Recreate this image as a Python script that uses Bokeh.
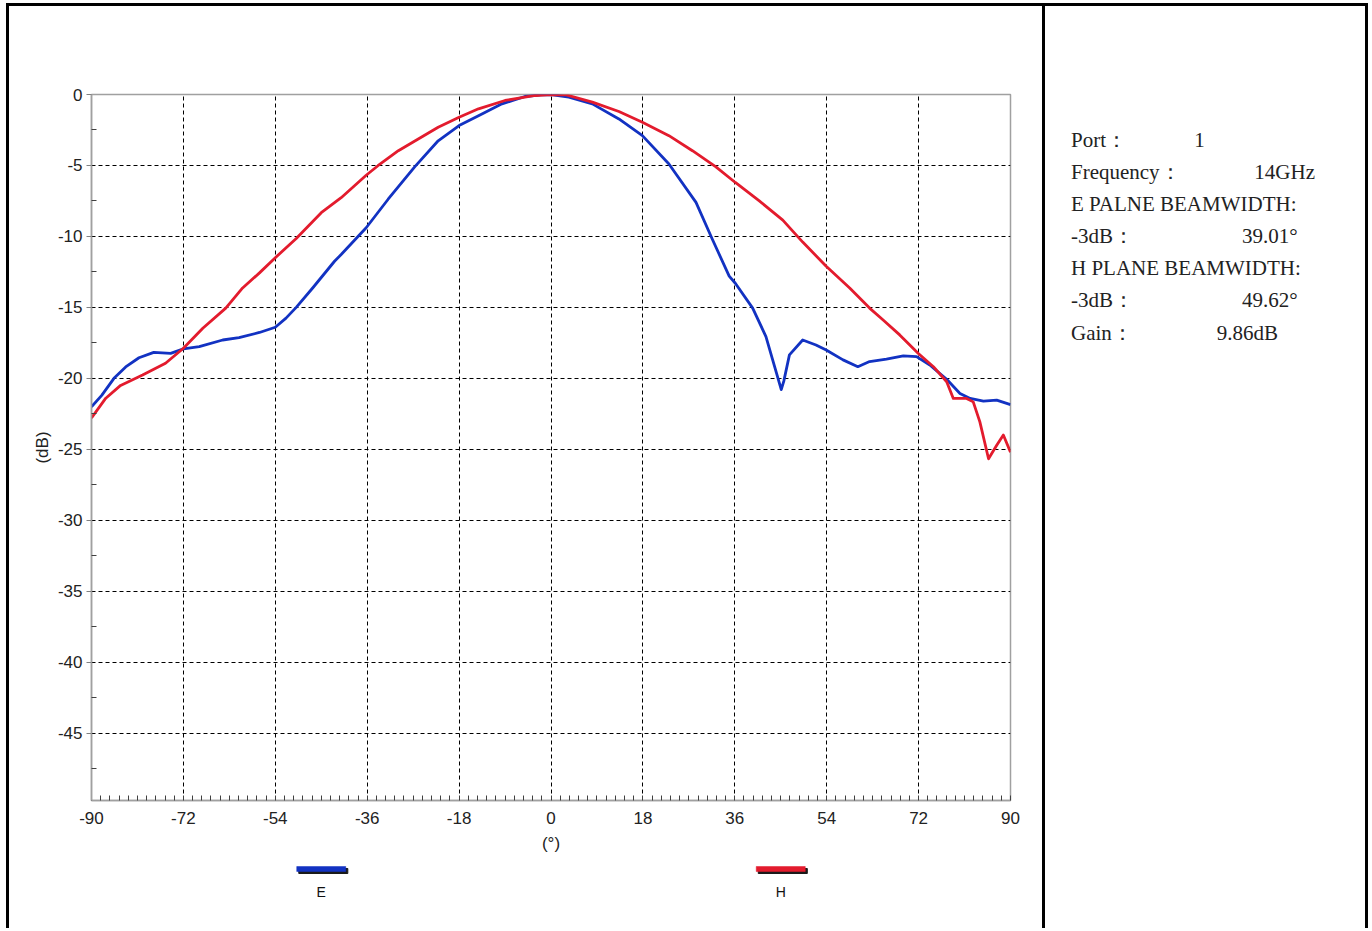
import numpy as np
from bokeh.plotting import figure
from bokeh.models import Range1d, FixedTicker
from bokeh.layouts import row, column
from bokeh.embed import file_html
from bokeh.resources import INLINE
from bokeh.core.properties import value

# ---------------- data ----------------
e_angle = [-90, -88, -85.6, -83.3, -80.7, -77.8, -74.5, -72, -68.9, -64.3, -61.1, -57.1, -54, -51.9,
           -49.9, -46.6, -42.4, -41.1, -36.2, -31.9, -26.7, -22.1, -18, -14.2, -9.6, -5.1, -2, 0,
           3.5, 8.1, 13.3, 17.9, 23.1, 28.4, 31.6, 34.9, 36.1, 39.5, 42.1, 43.8, 45.1, 45.6, 46.7,
           49.3, 51.9, 53.9, 57.2, 60.1, 62.4, 65.7, 69, 71.6, 74.2, 77.5, 80.1, 82.1, 84.7, 87.3, 90]
e_db = [-22.0, -21.2, -20.0, -19.2, -18.55, -18.17, -18.24, -17.93, -17.77, -17.3, -17.13, -16.77, -16.4, -15.76,
        -15.0, -13.6, -11.75, -11.28, -9.39, -7.38, -5.1, -3.26, -2.19, -1.49, -0.66, -0.14, -0.02, 0.0,
        -0.19, -0.66, -1.72, -2.9, -4.9, -7.6, -10.2, -12.8, -13.3, -15.05, -17.06, -19.18, -20.8, -20.2, -18.35,
        -17.3, -17.65, -18.0, -18.7, -19.18, -18.82, -18.64, -18.42, -18.47, -19.06, -20.07, -21.07, -21.42,
        -21.6, -21.54, -21.85]

h_angle = [-90, -87.2, -84.3, -80, -75.5, -72, -68.2, -63.7, -60.4, -57.1, -54, -49.9, -45, -41.1,
           -36.2, -33.9, -29.9, -26, -22.1, -18, -14.2, -9, -5.1, -3.1, 0, 3, 8.1, 13.3, 17.9, 23.1,
           27.7, 32.3, 36.1, 40.8, 45.4, 49.3, 53.9, 58.5, 62.4, 65.0, 68.3, 71.9, 74.9, 77.5, 78.8,
           81.4, 82.7, 84.0, 85.7, 87.3, 88.6, 90]
h_db = [-22.8, -21.4, -20.5, -19.77, -18.94, -17.88, -16.47, -15.05, -13.63, -12.57, -11.5, -10.15, -8.33, -7.27,
        -5.69, -5.02, -3.96, -3.14, -2.31, -1.6, -1.01, -0.42, -0.19, -0.07, 0.0, -0.03, -0.54, -1.2, -1.96, -2.9,
        -3.96, -5.1, -6.2, -7.5, -8.85, -10.4, -12.1, -13.63, -15.05, -15.87, -16.94, -18.23, -19.18, -20.24, -21.42,
        -21.42, -21.66, -23.07, -25.67, -24.72, -24.0, -25.2]

series_names = ["E", "H"]
series_colors = ["#1232c2", "#e31b2d"]

x_ticks = [-90, -72, -54, -36, -18, 0, 18, 36, 54, 72, 90]
y_ticks = [0, -5, -10, -15, -20, -25, -30, -35, -40, -45]
x_label = "(°)"
y_label = "(dB)"

info_labels = ["Port：", "Frequency：", "E PALNE BEAMWIDTH:", "-3dB：", "H PLANE BEAMWIDTH:", "-3dB：", "Gain："]
info_values = ["1", "14GHz", "", "39.01°", "", "49.62°", "9.86dB"]

# ---------------- styling / layout constants ----------------
BORDER = "3px solid black"
AXIS_GRAY = "#a0a0a0"
SANS = value("Liberation Sans")
SERIF = value("Liberation Serif")

# ---------------- main chart ----------------
p = figure(frame_width=916, frame_height=703,
           x_range=Range1d(-90, 90), y_range=Range1d(-49.75, 0),
           min_border_left=82, min_border_right=35, min_border_top=88, min_border_bottom=63,
           output_backend="svg", toolbar_location=None,
           background_fill_color="white", border_fill_color="white",
           outline_line_color=AXIS_GRAY, outline_line_width=1.5,
           styles={"border-left": BORDER, "border-top": BORDER, "box-sizing": "content-box"})

minor_x = [round(-90 + 1.8 * i, 2) for i in range(101)]
minor_y = [-2.5 - 5 * i for i in range(10)]
p.xaxis.ticker = FixedTicker(ticks=x_ticks, minor_ticks=minor_x)
p.yaxis.ticker = FixedTicker(ticks=y_ticks, minor_ticks=minor_y)
p.xaxis.major_label_overrides = {t: str(t) for t in x_ticks}
p.yaxis.major_label_overrides = {t: str(t) for t in y_ticks}

for ax in (p.xaxis[0], p.yaxis[0]):
    ax.axis_line_color = AXIS_GRAY
    ax.axis_line_width = 1.5
    ax.major_label_text_font = "Liberation Sans"
    ax.major_label_text_font_size = "17px"
    ax.major_label_text_color = "#222222"
    ax.axis_label_text_font = "Liberation Sans"
    ax.axis_label_text_font_size = "17px"
    ax.axis_label_text_font_style = "normal"
    ax.axis_label_text_color = "#222222"
    ax.minor_tick_in = 5
    ax.minor_tick_out = 0
    ax.minor_tick_line_color = "#404040"
    ax.minor_tick_line_width = 1
    ax.major_tick_in = 0

p.xaxis.major_tick_out = 0
p.xaxis.major_label_standoff = 11
p.xaxis.axis_label = x_label
p.xaxis.axis_label_standoff = 7

p.yaxis.major_tick_out = 5
p.yaxis.major_tick_line_color = "#808080"
p.yaxis.major_label_standoff = 4
p.yaxis.axis_label = y_label
p.yaxis.axis_label_standoff = 3

p.xgrid.ticker = FixedTicker(ticks=x_ticks[1:-1])
p.ygrid.ticker = FixedTicker(ticks=y_ticks[1:])
for g in (p.xgrid[0], p.ygrid[0]):
    g.grid_line_color = "black"
    g.grid_line_dash = "4 3"
    g.grid_line_width = 1

p.line(e_angle, e_db, line_color=series_colors[0], line_width=2.8, line_join="round")
p.line(h_angle, h_db, line_color=series_colors[1], line_width=2.8, line_join="round")

# ---------------- legend strip under the chart ----------------
leg = figure(frame_width=916, frame_height=68,
             x_range=Range1d(-90, 90), y_range=Range1d(68, 0),
             min_border_left=82, min_border_right=35, min_border_top=0, min_border_bottom=0,
             x_axis_location=None, y_axis_location=None,
             output_backend="svg", toolbar_location=None,
             outline_line_color=None, background_fill_color="white", border_fill_color="white",
             styles={"border-left": BORDER, "box-sizing": "content-box"})
leg.grid.visible = False
leg_x = [-45, 45]
leg.rect(x=[v + 0.4 for v in leg_x], y=[10.5, 10.5], width=9.6, height=5, color="#1a1a1a")
leg.rect(x=leg_x, y=[8.5, 8.5], width=9.6, height=5, fill_color=series_colors,
         line_color=series_colors, line_width=0.5)
leg.text(x=leg_x, y=[31, 31], text=series_names, text_font=SANS, text_font_size="14px",
         text_align="center", text_baseline="middle", text_color="#111111")

# ---------------- info panel ----------------
info = figure(width=320, height=922,
              x_range=Range1d(0, 320), y_range=Range1d(922, 0),
              min_border=0, x_axis_location=None, y_axis_location=None,
              output_backend="svg", toolbar_location=None,
              outline_line_color=None, background_fill_color="white", border_fill_color="white",
              styles={"border-left": BORDER, "border-top": BORDER, "border-right": BORDER,
                      "box-sizing": "content-box"})
info.grid.visible = False
row_y = [133 + 32 * i for i in range(len(info_labels))]
value_x = [146, 205, 0, 193, 0, 193, 168]
info.text(x=[25] * len(info_labels), y=row_y, text=info_labels,
          text_font=SERIF, text_font_size="21px",
          text_baseline="middle", text_color="#222222")
info.text(x=value_x, y=row_y, text=info_values,
          text_font=SERIF, text_font_size="21px",
          text_baseline="middle", text_color="#222222")

layout = row(column(p, leg, spacing=0), info, spacing=0,
             styles={"margin-left": "6px", "margin-top": "3px"})
open("out.html", "w").write(file_html(layout, INLINE))
